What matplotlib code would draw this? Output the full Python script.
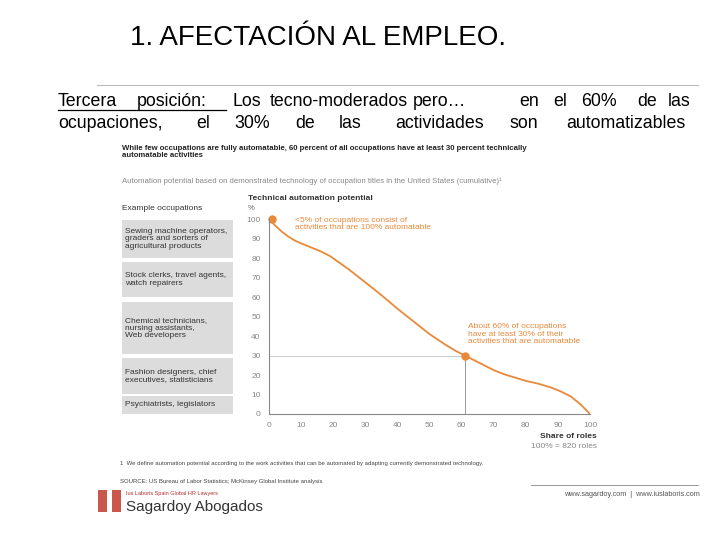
import matplotlib
matplotlib.use("Agg")
import matplotlib.pyplot as plt
from matplotlib.patches import Rectangle

share = [0, 2, 4, 6, 8, 10, 13, 16, 19, 22, 25, 30, 35, 40, 45, 50, 55, 58, 61, 64, 67, 70, 73, 76, 80, 84, 88, 91, 94, 97, 100]
potential = [100, 96.5, 93.5, 91, 89, 87.5, 85.5, 83.5, 81, 77.5, 74, 67.5, 61, 54, 47.5, 41, 35.5, 32.5, 30, 27.5, 25, 22.5, 20.5, 19, 17, 15.5, 13.5, 11.5, 9, 5, 0]
xticks = [0, 10, 20, 30, 40, 50, 60, 70, 80, 90, 100]
yticks = [0, 10, 20, 30, 40, 50, 60, 70, 80, 90, 100]
occupations = ["Sewing machine operators,\ngraders and sorters of\nagricultural products",
               "Stock clerks, travel agents,\nwatch repairers",
               "Chemical technicians,\nnursing assistants,\nWeb developers",
               "Fashion designers, chief\nexecutives, statisticians",
               "Psychiatrists, legislators"]

plt.rcParams["font.family"] = "Liberation Sans"
fig = plt.figure(figsize=(7.2, 5.4), dpi=100)
ov = fig.add_axes([0, 0, 1, 1])
ov.set_xlim(0, 720); ov.set_ylim(540, 0); ov.axis("off")

orange = "#E8893A"
ov.text(130, 38, "1. AFECTACIÓN AL EMPLEO.", fontsize=20, va="center", ha="left")
ov.plot([97, 698], [85, 85], color="#bbbbbb", lw=0.8)

line1 = [("Tercera", 58), ("posición:", 137), ("Los", 233), ("tecno-moderados", 270), ("pero…", 413),
         ("en", 519), ("el", 553), ("60%", 581), ("de", 637), ("las", 668)]
line2 = [("ocupaciones,", 58), ("el", 196), ("30%", 234), ("de", 295), ("las", 339),
         ("actividades", 395), ("son", 510), ("automatizables", 566)]
for w, x in line1:
    ov.text(x, 101, w, fontsize=12.8, va="center")
for w, x in line2:
    ov.text(x, 123, w, fontsize=12.8, va="center")
ov.plot([58, 226], [110, 110], color="black", lw=0.9)

ov.text(122, 152, "While few occupations are fully automatable, 60 percent of all occupations have at least 30 percent technically\nautomatable activities",
        fontsize=5.6, fontweight="bold", va="center", color="#222222", linespacing=1.1)
ov.text(122, 181, "Automation potential based on demonstrated technology of occupation titles in the United States (cumulative)\u00b9",
        fontsize=5.6, va="center", color="#888888")
ov.text(122, 208, "Example occupations", fontsize=6, va="center", color="#333333")
ov.text(248, 198, "Technical automation potential", fontsize=6, fontweight="bold", va="center", color="#333333")
ov.text(248, 208, "%", fontsize=5.5, va="center", color="#666666")

rows = [(220, 258), (262, 297), (302, 354), (358, 394), (396, 414)]
for (t, b), lab in zip(rows, occupations):
    ov.add_patch(Rectangle((122, t), 111, b - t, color="#dcdcdc", lw=0))
    ov.text(125, (t + b) / 2, lab, fontsize=6, va="center", color="#333333", linespacing=1.05)

ax = fig.add_axes([269 / 720, 1 - 414 / 540, 321 / 720, 195 / 540])
ax.plot(share, potential, color=orange, lw=1.3, solid_joinstyle="round")
ax.plot([1, 61], [100, 30], "o", color=orange, ms=5, clip_on=False)
ax.plot([0, 61], [30, 30], color="#cccccc", lw=0.7, zorder=0)
ax.plot([61, 61], [0, 30], color="#999999", lw=0.7, zorder=0)
ax.set_xlim(0, 100); ax.set_ylim(0, 100)
ax.set_xticks(xticks); ax.set_yticks(yticks)
ax.tick_params(labelsize=6, colors="#888888", length=0, pad=6)
for s in ["top", "right"]:
    ax.spines[s].set_visible(False)
for s in ["left", "bottom"]:
    ax.spines[s].set_color("#888888"); ax.spines[s].set_linewidth(0.8)
ax.patch.set_alpha(0)

ov.text(295, 224, "<5% of occupations consist of\nactivities that are 100% automatable", fontsize=6, color=orange, va="center", linespacing=1.1)
ov.text(468, 334, "About 60% of occupations\nhave at least 30% of their\nactivities that are automatable", fontsize=6, color=orange, va="center", linespacing=1.1)
ov.text(597, 436, "Share of roles", fontsize=6, fontweight="bold", ha="right", va="center", color="#333333")
ov.text(597, 446, "100% = 820 roles", fontsize=6, ha="right", va="center", color="#888888")
ov.text(120, 464, "1  We define automation potential according to the work activities that can be automated by adapting currently demonstrated technology.",
        fontsize=4.3, va="center", color="#444444")
ov.text(120, 481, "SOURCE: US Bureau of Labor Statistics; McKinsey Global Institute analysis", fontsize=4.3, va="center", color="#444444")
ov.plot([531, 698], [485, 485], color="#888888", lw=0.6)
ov.text(700, 494, "www.sagardoy.com  |  www.iuslaboris.com", fontsize=5.2, ha="right", va="center", color="#555555")
ov.text(126, 494, "Ius Laboris Spain Global HR Lawyers", fontsize=4, va="center", color="#b03030")
ov.text(126, 507, "Sagardoy Abogados", fontsize=11, va="center", color="#333333")
for x0 in (98, 112):
    ov.add_patch(Rectangle((x0, 490), 9, 22, color="#c0392b", lw=0, alpha=0.85))

fig.savefig("out.png", dpi=100)
